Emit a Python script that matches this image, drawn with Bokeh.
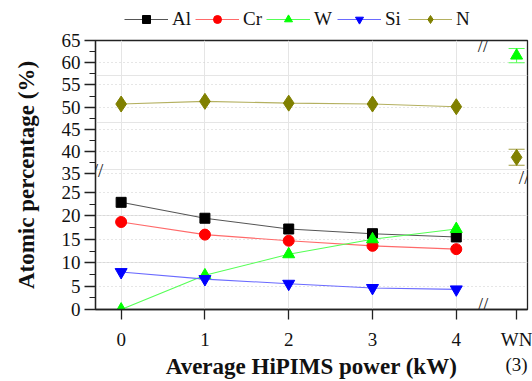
from bokeh.plotting import figure
from bokeh.layouts import column
from bokeh.models import (Range1d, FixedTicker, LinearAxis, Legend, LegendItem,
                          Label, ColumnDataSource, Grid)
from bokeh.embed import file_html
from bokeh.resources import INLINE

# ---------------- data ----------------
power = [0, 1, 2, 3, 4]
al = [22.9, 19.5, 17.2, 16.2, 15.5]
cr = [18.7, 16.0, 14.7, 13.6, 12.9]
w = [0.0, 7.3, 11.8, 15.0, 17.2]
si = [8.0, 6.5, 5.5, 4.6, 4.3]
n = [50.7, 51.3, 50.9, 50.7, 50.1]
si_err = [0.8, 0.7, 0.6, 0.5, 0.5]
w_err = [0.3, 0.6, 0.6, 0.6, 0.6]

wn_x = [4.72]
wn_w = [61.6]
wn_w_err = [1.6]
wn_n = [38.7]
wn_n_err = [1.8]

lower_ticks = [0, 5, 10, 15, 20, 25]
upper_ticks = [35, 40, 45, 50, 55, 60, 65]
x_ticks = [0, 1, 2, 3, 4]
x_labels = ["0", "1", "2", "3", "4"]
wn_label = "WN\n(3)"

# ---------------- ranges (broken axes) ----------------
LO = (0.0, 57.48)
UP = (4.46, 65.0)
XR = (-0.306, 4.85)

def up_to_lo(v):
    return (v - UP[0]) / (UP[1] - UP[0]) * (LO[1] - LO[0]) + LO[0]

FONT = "Liberation Serif"
LEG_H = 30

p = figure(width=532, height=381 - LEG_H, output_backend="svg", toolbar_location=None,
           x_range=Range1d(*XR), y_range=Range1d(*LO),
           min_border_left=95, min_border_right=5, min_border_top=10,
           min_border_bottom=72, x_axis_location=None, y_axis_location=None)
p.extra_y_ranges = {"upper": Range1d(*UP)}
p.background_fill_color = "white"
p.border_fill_color = "white"
p.outline_line_color = "#222222"
p.outline_line_width = 1.3

yt_major = [float(v) for v in lower_ticks] + [up_to_lo(v) for v in upper_ticks]
yt_minor = [v + 2.5 for v in lower_ticks[:-1]] + [up_to_lo(v + 2.5) for v in upper_ticks[:-1]]
overrides = {}
for v in lower_ticks:
    overrides[float(v)] = str(v)
for v in upper_ticks:
    overrides[up_to_lo(v)] = str(v)

yaxis = LinearAxis(ticker=FixedTicker(ticks=yt_major, minor_ticks=yt_minor),
                   major_label_overrides=overrides,
                   axis_label="Atomic percentage (%)")
xover = {float(t): l for t, l in zip(x_ticks, x_labels)}
xover[wn_x[0]] = wn_label
xaxis = LinearAxis(ticker=FixedTicker(ticks=[float(t) for t in x_ticks] + wn_x),
                   major_label_overrides=xover,
                   axis_label="Average HiPIMS power (kW)")
for ax in (xaxis, yaxis):
    ax.axis_line_color = "#222222"
    ax.axis_line_width = 1.3
    ax.major_tick_line_color = "#222222"
    ax.minor_tick_line_color = "#222222"
    ax.major_tick_line_width = 1.3
    ax.minor_tick_line_width = 1.1
    ax.major_tick_in = 0
    ax.minor_tick_in = 0
    ax.major_label_text_font = FONT
    ax.major_label_text_font_size = "19px"
    ax.major_label_text_color = "#111111"
    ax.axis_label_text_font = FONT
    ax.axis_label_text_font_style = "bold"
    ax.axis_label_text_font_size = "23px"
    ax.axis_label_text_color = "#111111"
yaxis.major_tick_out = 11
yaxis.minor_tick_out = 6
yaxis.major_label_standoff = 4
yaxis.axis_label_standoff = 20
xaxis.major_tick_out = 10
xaxis.minor_tick_line_color = None
xaxis.major_label_standoff = 9
xaxis.axis_label_standoff = -24
p.add_layout(yaxis, "left")
p.add_layout(xaxis, "below")

p.add_layout(Grid(dimension=1, ticker=FixedTicker(ticks=yt_major),
                  grid_line_color="#cccccc", grid_line_dash="1 3", grid_line_width=1))

# ---------------- series ----------------
series = [
    ("Al", al, "#555555", "black", "square", 10),
    ("Cr", cr, "#ff6a6a", "#ff0000", "circle", 11),
    ("W", w, "#55ff55", "#00ff00", "triangle", 12),
    ("Si", si, "#6a6aff", "#0000ff", "inverted_triangle", 12),
    ("N", n, "#b4b060", "#808000", "diamond", 16),
]
src_si = ColumnDataSource(dict(x=power, lo=[a - b for a, b in zip(si, si_err)],
                               hi=[a + b for a, b in zip(si, si_err)]))
src_w = ColumnDataSource(dict(x=power, lo=[a - b for a, b in zip(w, w_err)],
                              hi=[a + b for a, b in zip(w, w_err)]))
p.segment(x0="x", y0="lo", x1="x", y1="hi", source=src_si, line_color="#6a6aff", line_width=1)
p.segment(x0="x", y0="lo", x1="x", y1="hi", source=src_w, line_color="#55ff55", line_width=1)

for name, ys, lc, mc, mk, sz in series:
    rng = "upper" if name == "N" else "default"
    p.line(power, ys, line_color=lc, line_width=1.1, y_range_name=rng)
    p.scatter(power, ys, marker=mk, size=sz, fill_color=mc, line_color=mc, y_range_name=rng)

# WN reference points with error bars
src_wn_w = ColumnDataSource(dict(x=wn_x, lo=[wn_w[0] - wn_w_err[0]], hi=[wn_w[0] + wn_w_err[0]]))
src_wn_n = ColumnDataSource(dict(x=wn_x, lo=[wn_n[0] - wn_n_err[0]], hi=[wn_n[0] + wn_n_err[0]]))
for src, col in ((src_wn_w, "#55ff55"), (src_wn_n, "#a09c40")):
    p.segment(x0="x", y0="lo", x1="x", y1="hi", source=src, line_color=col, line_width=1,
              y_range_name="upper")
    p.rect(x="x", y="lo", width=16, height=1, width_units="screen", height_units="screen",
           source=src, fill_color=col, line_color=None, y_range_name="upper")
    p.rect(x="x", y="hi", width=16, height=1, width_units="screen", height_units="screen",
           source=src, fill_color=col, line_color=None, y_range_name="upper")
p.scatter(wn_x, wn_w, marker="triangle", size=12, fill_color="#00ff00", line_color="#00ff00",
          y_range_name="upper")
p.scatter(wn_x, wn_n, marker="diamond", size=16, fill_color="#808000", line_color="#808000",
          y_range_name="upper")

# break marks
for bx, by in ((XR[0] + 0.03, 29.7), (XR[1] - 0.04, 28.2), (4.32, LO[1] - 1.0), (4.32, LO[0] + 1.0)):
    p.add_layout(Label(x=bx, y=by, text="//", text_align="center", text_baseline="middle",
                       text_font=FONT, text_font_size="19px", text_color="#222222"))

# ---------------- legend strip ----------------
lg = figure(width=532, height=LEG_H, output_backend="svg", toolbar_location=None,
            x_range=Range1d(0, 1), y_range=Range1d(-20, -10), min_border=0,
            x_axis_location=None, y_axis_location=None)
lg.outline_line_color = None
lg.grid.visible = False
items = []
for name, ys, lc, mc, mk, sz in series:
    r1 = lg.line(power, ys, line_color=lc, line_width=1.1)
    r2 = lg.scatter(power, ys, marker=mk, size=sz, fill_color=mc, line_color=mc)
    items.append(LegendItem(label=name, renderers=[r1, r2]))
legend = Legend(items=items, orientation="horizontal", location=(29, 0),
                label_text_font=FONT, label_text_font_size="19px", label_text_color="#111111",
                glyph_width=44, glyph_height=20, label_standoff=4, spacing=3,
                padding=2, margin=0, border_line_color=None, background_fill_alpha=0)
lg.add_layout(legend)

open("out.html", "w").write(file_html(column(lg, p), INLINE))
